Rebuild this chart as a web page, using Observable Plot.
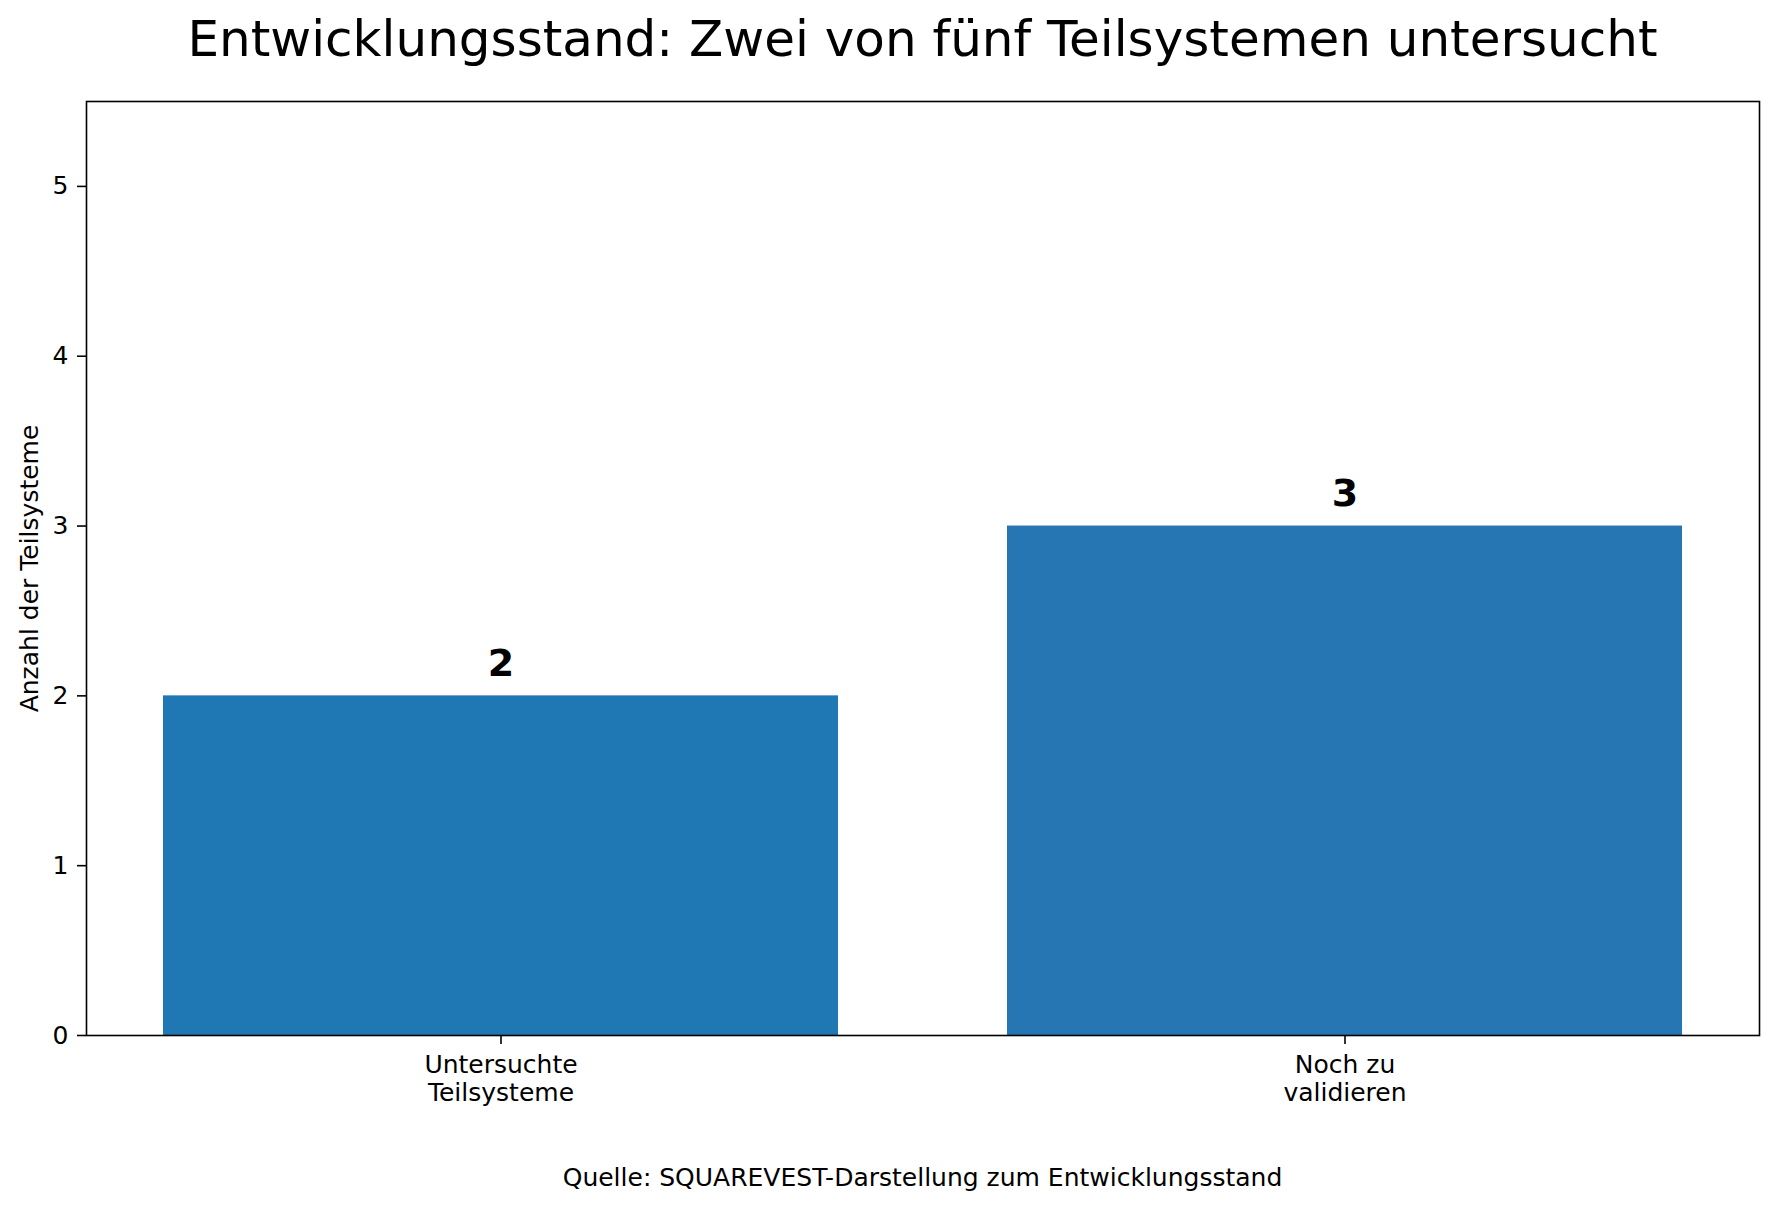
<!DOCTYPE html>
<html>
<head>
<meta charset="utf-8">
<script src="https://cdn.jsdelivr.net/npm/d3@7"></script>
<script src="https://cdn.jsdelivr.net/npm/@observablehq/plot@0.6"></script>
<style>
  body { margin: 0; background: #fff; font-family: "DejaVu Sans", sans-serif; color: #000; }
  #wrap { position: relative; width: 1777px; height: 1209px; overflow: hidden; }
  #chart { position: absolute; left: 0; top: 0; }
  #title { position: absolute; left: 86px; width: 1673px; top: 14px; text-align: center;
           font-size: 50px; line-height: 50px; white-space: nowrap; }
  #caption { position: absolute; left: 86px; width: 1673px; top: 1165px; text-align: center;
             font-size: 25px; line-height: 25px; white-space: nowrap; }
</style>
</head>
<body>
<div id="wrap">
  <div id="chart"></div>
  <div id="title">Entwicklungsstand: Zwei von fünf Teilsystemen untersucht</div>
  <div id="caption">Quelle: SQUAREVEST-Darstellung zum Entwicklungsstand</div>
</div>
<script>
const categories = ["Untersuchte\nTeilsysteme", "Noch zu\nvalidieren"];
const counts = [2, 3];
const yTicks = [0, 1, 2, 3, 4, 5];
const yLabel = "Anzahl der Teilsysteme";
const barColors = ["#1f77b4", "#2576b3"];

const data = categories.map((c, i) => ({ category: c, count: counts[i] }));

const chart = Plot.plot({
  width: 1777,
  height: 1209,
  marginTop: 101,
  marginLeft: 86,
  marginRight: 18,
  marginBottom: 174,
  style: { fontFamily: "DejaVu Sans", fontSize: "25px", background: "transparent", color: "#000" },
  x: { domain: categories, paddingInner: 0.2, paddingOuter: 0.09, label: null },
  y: { domain: [0, 5.5], label: null },
  color: { domain: categories, range: barColors },
  marks: [
    Plot.barY(data, { x: "category", y: "count", fill: "category" }),
    Plot.frame({ stroke: "#000", strokeWidth: 1.6 }),
    Plot.axisX({ tickSize: 9, tickPadding: 8, fontSize: 25, lineHeight: 1.13, strokeWidth: 1.6, label: null }),
    Plot.axisY({ ticks: yTicks, tickSize: 9, tickPadding: 9, fontSize: 25, tickFormat: d3.format("d"), strokeWidth: 1.6, label: null }),
    Plot.text(data, { x: "category", y: "count", text: d => String(d.count), lineAnchor: "bottom", dy: -20, fontSize: 38, fontWeight: "bold", fill: "#000" }),
    Plot.text([yLabel], { frameAnchor: "left", dx: -57, rotate: -90, text: d => d, fontSize: 25, textAnchor: "middle", fill: "#000" })
  ]
});
document.getElementById("chart").appendChild(chart);
</script>
</body>
</html>
